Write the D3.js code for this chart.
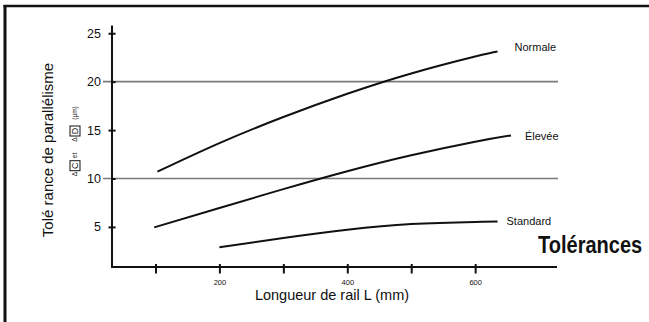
<!DOCTYPE html>
<html><head><meta charset="utf-8">
<script src="https://cdn.jsdelivr.net/npm/d3@7"></script>
<style>
body{margin:0;background:#fff}
svg{display:block}
text{font-family:"Liberation Sans",Arial,Helvetica,sans-serif;fill:#111}
</style>
</head><body>
<svg id="c" width="649" height="322"></svg>
<script>
// ---- data ----
const xTicks = [100, 200, 300, 400, 500, 600];
const xTickLabels = ["", "200", "", "400", "", "600"];
const yTicks = [5, 10, 15, 20, 25];
const yGrid = [10, 20];
const seriesNames = ["Normale", "Élevée", "Standard"];
const normaleL = [103, 200, 300, 400, 500, 600, 635];
const normaleV = [10.7, 13.65, 16.35, 18.75, 20.85, 22.6, 23.12];
const eleveeL = [98, 200, 300, 400, 500, 600, 656];
const eleveeV = [4.95, 6.95, 8.9, 10.75, 12.4, 13.8, 14.45];
const standardL = [200, 300, 400, 500, 600, 635];
const standardV = [2.9, 3.85, 4.7, 5.3, 5.52, 5.55];
const xTitle = "Longueur de rail L (mm)";
const yTitle = "Tolé rance de parallélisme";
const chartTitle = "Tolérances";

// ---- drawing ----
const svg = d3.select("#c");
const x = d3.scaleLinear().domain([32, 728]).range([112, 557]);
const y = d3.scaleLinear().domain([0.86, 25.8]).range([267, 25.5]);

// frame
svg.append("line").attr("x1", 3.5).attr("x2", 649).attr("y1", 6).attr("y2", 6)
  .attr("stroke", "#111").attr("stroke-width", 2.7);
svg.append("line").attr("x1", 5).attr("x2", 5).attr("y1", 5).attr("y2", 322)
  .attr("stroke", "#111").attr("stroke-width", 3);

// gridlines
svg.selectAll(".grid").data(yGrid).enter().append("line")
  .attr("x1", 103).attr("x2", 558)
  .attr("y1", d => y(d)).attr("y2", d => y(d))
  .attr("stroke", "#7a7a7a").attr("stroke-width", 1.6);

// y axis
const yAxis = svg.append("g").attr("transform", `translate(${x(32)},0)`)
  .call(d3.axisLeft(y).tickValues(yTicks).tickSize(3.5).tickPadding(8).tickFormat(d3.format("d")));
yAxis.select(".domain").remove();
yAxis.selectAll(".tick line").attr("x2", 3.6).attr("x1", d => yGrid.includes(d) ? 0 : -3.5)
  .attr("stroke", "#111").attr("stroke-width", 2);
yAxis.selectAll(".tick text").attr("font-size", 12.5).attr("font-family", '"Liberation Sans",Arial,sans-serif')
  .attr("fill", "#111").attr("x", -11);
svg.append("line").attr("x1", x(32)).attr("x2", x(32)).attr("y1", y(25.8)).attr("y2", y(0.86) + 1)
  .attr("stroke", "#111").attr("stroke-width", 2);

// x axis
const xAxis = svg.append("g").attr("transform", `translate(0,${y(0.86)})`)
  .call(d3.axisBottom(x).tickValues(xTicks).tickSize(6.5).tickPadding(7)
    .tickFormat((d, i) => xTickLabels[i]));
xAxis.select(".domain").remove();
xAxis.selectAll(".tick line").attr("y1", -3).attr("stroke", "#111").attr("stroke-width", 2);
xAxis.selectAll(".tick text").attr("font-size", 7.5).attr("font-family", '"Liberation Sans",Arial,sans-serif')
  .attr("fill", "#222").attr("y", 13);
svg.append("line").attr("x1", x(32) - 1).attr("x2", x(728)).attr("y1", y(0.86)).attr("y2", y(0.86))
  .attr("stroke", "#111").attr("stroke-width", 2);

// curves
const series = [
  {name: seriesNames[0], L: normaleL, V: normaleV, dx: 17, dy: -4},
  {name: seriesNames[1], L: eleveeL, V: eleveeV, dx: 14, dy: 1},
  {name: seriesNames[2], L: standardL, V: standardV, dx: 9, dy: 0}
];
const line = d3.line().x(d => x(d[0])).y(d => y(d[1])).curve(d3.curveNatural);
series.forEach(s => {
  const pts = s.L.map((l, i) => [l, s.V[i]]);
  svg.append("path").attr("d", line(pts)).attr("fill", "none")
    .attr("stroke", "#111").attr("stroke-width", 2).attr("stroke-linecap", "butt");
  const last = pts[pts.length - 1];
  svg.append("text").attr("x", x(last[0]) + s.dx).attr("y", y(last[1]) + s.dy)
    .attr("dy", "0.35em").attr("font-size", 11).text(s.name);
});

// chart title (condensed bold look)
svg.append("text").attr("transform", "translate(538,253) scale(0.87,1)")
  .attr("font-size", 23).attr("font-weight", "bold")
  .text(chartTitle);

// axis titles
svg.append("text").attr("x", 332).attr("y", 299.5).attr("text-anchor", "middle")
  .attr("font-size", 14.5).text(xTitle);
svg.append("text").attr("transform", "translate(53,150) rotate(-90)")
  .attr("text-anchor", "middle").attr("font-size", 15).text(yTitle);

// ΔC et ΔD (μm) sub-label
const sub = [
  {t: "Δ", cy: 174, fs: 6.5},
  {t: "C", cy: 165.7, fs: 9, box: true},
  {t: "et", cy: 155.5, fs: 6.5},
  {t: "Δ", cy: 139.5, fs: 6.5},
  {t: "D", cy: 131, fs: 9, box: true},
  {t: "(μm)", cy: 113, fs: 6.5}
];
sub.forEach(s => {
  const g = svg.append("g").attr("transform", `translate(75,${s.cy}) rotate(-90)`);
  if (s.box) g.append("rect").attr("x", -5).attr("y", -5).attr("width", 10).attr("height", 10)
    .attr("fill", "none").attr("stroke", "#111").attr("stroke-width", 1);
  g.append("text").attr("text-anchor", "middle").attr("dy", "0.36em")
    .attr("font-size", s.fs).text(s.t);
});
</script>
</body></html>
